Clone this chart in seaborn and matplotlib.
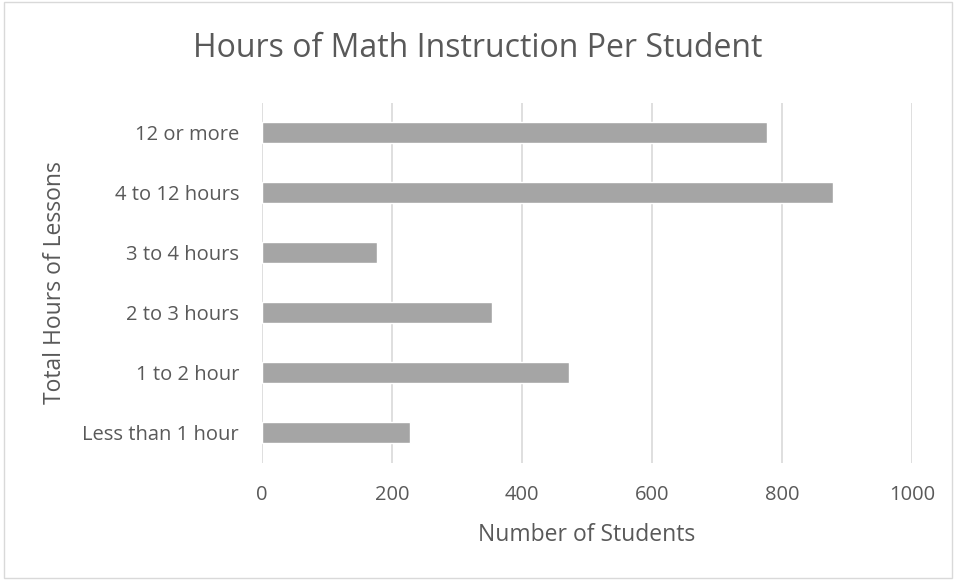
import seaborn as sns
from matplotlib import pyplot as plt
from matplotlib.patches import Rectangle
import pandas as pd

categories = ['12 or more', '4 to 12 hours', '3 to 4 hours', '2 to 3 hours',
              '1 to 2 hour', 'Less than 1 hour']
students = [777, 878, 177, 354, 472, 228]
xticks = [0, 200, 400, 600, 800, 1000]

TEXT = '#595959'
FONT = ['Open Sans', 'DejaVu Sans']

sns.set_style('white')
plt.rcParams['font.family'] = FONT

df = pd.DataFrame({'hours': categories, 'students': students})

fig = plt.figure(figsize=(9.56, 5.8), dpi=100)
ax = fig.add_axes([0.274, 0.202, 0.680, 0.621])
sns.barplot(data=df, x='students', y='hours', orient='h', color='#A5A5A5',
            width=0.35, saturation=1, ax=ax)

ax.set_xlim(0, 1000)
ax.set_ylim(5.5, -0.5)
ax.set_xticks(xticks)
ax.xaxis.grid(True, color='#D9D9D9', linewidth=1.2)
ax.set_axisbelow(True)
sns.despine(ax=ax, left=True, bottom=True)
ax.tick_params(axis='both', length=0, labelsize=14.5, colors=TEXT)
ax.tick_params(axis='x', pad=16)
ax.tick_params(axis='y', pad=16.5)

ax.set_xlabel('Number of Students', fontsize=16.5, color=TEXT, labelpad=13)
ax.set_ylabel('Total Hours of Lessons', fontsize=16.5, color=TEXT, labelpad=11)
fig.text(0.5, 0.917, 'Hours of Math Instruction Per Student', ha='center',
         va='center', fontsize=23, color=TEXT)

fig.patches.append(Rectangle((0.004, 0.004), 0.992, 0.992, transform=fig.transFigure,
                             fill=False, edgecolor='#D9D9D9', linewidth=1))

fig.savefig('out.png', dpi=100)
